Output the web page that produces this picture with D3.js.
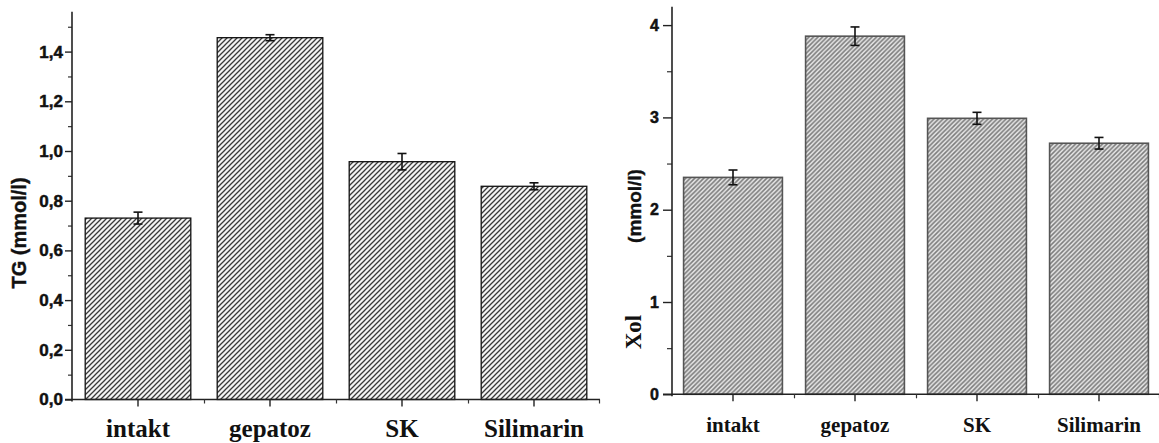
<!DOCTYPE html>
<html>
<head>
<meta charset="utf-8">
<script src="https://cdn.jsdelivr.net/npm/d3@7"></script>
<style>
  html, body { margin: 0; padding: 0; background: #fff; }
  svg { display: block; }
</style>
</head>
<body>
<svg id="chart" width="1159" height="443"></svg>
<script>
// ---- data ----
const categories = ["intakt", "gepatoz", "SK", "Silimarin"];
const tgValues = [0.73, 1.456, 0.957, 0.858];
const tgErrors = [0.024, 0.012, 0.033, 0.014];
const tgTicks = [0, 0.2, 0.4, 0.6, 0.8, 1.0, 1.2, 1.4];
const tgMinorTicks = [0.1, 0.3, 0.5, 0.7, 0.9, 1.1, 1.3, 1.5];
const xolValues = [2.35, 3.88, 2.99, 2.72];
const xolErrors = [0.08, 0.1, 0.065, 0.063];
const xolTicks = [0, 1, 2, 3, 4];
const xolMinorTicks = [0.5, 1.5, 2.5, 3.5];

const svg = d3.select("#chart");
const defs = svg.append("defs");

function hatch(id, bg, fg, size, sw) {
  const p = defs.append("pattern").attr("id", id)
    .attr("patternUnits", "userSpaceOnUse")
    .attr("width", size).attr("height", size);
  p.append("rect").attr("width", size).attr("height", size).attr("fill", bg);
  p.append("path")
    .attr("d", `M${-size/2},${size/2} L${size/2},${-size/2} M0,${size} L${size},0 M${size/2},${size*1.5} L${size*1.5},${size/2}`)
    .attr("stroke", fg).attr("stroke-width", sw);
}
hatch("hatchL", "#f4f4f4", "#3a3a3a", 5, 1.3);
hatch("hatchR", "#e8e8e8", "#7c7c7c", 4.5, 1.6);

function panel(opt) {
  const g = svg.append("g");
  const x = d3.scaleBand().domain(categories).range([opt.x0, opt.x1]).paddingInner(opt.pad).paddingOuter(opt.pad / 2);
  const y = d3.scaleLinear().domain([0, opt.yMax]).range([opt.yBase, opt.yTop]);

  // bars
  g.selectAll("rect.bar").data(categories).join("rect")
    .attr("class", "bar")
    .attr("x", d => x(d))
    .attr("width", x.bandwidth())
    .attr("y", (d, i) => y(opt.values[i]))
    .attr("height", (d, i) => y(0) - y(opt.values[i]))
    .attr("fill", `url(#${opt.pattern})`)
    .attr("stroke", opt.barStroke)
    .attr("stroke-width", opt.barStrokeW);

  // error bars
  const eb = g.selectAll("g.err").data(categories).join("g").attr("class", "err")
    .attr("stroke", "#111").attr("stroke-width", 1.6);
  eb.append("line")
    .attr("x1", d => x(d) + x.bandwidth() / 2).attr("x2", d => x(d) + x.bandwidth() / 2)
    .attr("y1", (d, i) => y(opt.values[i] + opt.errors[i]))
    .attr("y2", (d, i) => y(opt.values[i] - opt.errors[i]));
  [1, -1].forEach(s => {
    eb.append("line")
      .attr("x1", d => x(d) + x.bandwidth() / 2 - 4.5).attr("x2", d => x(d) + x.bandwidth() / 2 + 4.5)
      .attr("y1", (d, i) => y(opt.values[i] + s * opt.errors[i]))
      .attr("y2", (d, i) => y(opt.values[i] + s * opt.errors[i]));
  });

  // y axis: minor ticks
  g.append("g").attr("transform", `translate(${opt.x0},0)`)
    .call(d3.axisLeft(y).tickValues(opt.minor).tickSize(opt.minorLen).tickFormat(""))
    .call(a => a.select(".domain").remove())
    .call(a => a.selectAll("line").attr("stroke", "#333").attr("stroke-width", 1.2));
  // y axis: major ticks
  const ya = g.append("g").attr("transform", `translate(${opt.x0},0)`)
    .call(d3.axisLeft(y).tickValues(opt.ticks).tickSize(opt.majorLen).tickSizeOuter(0).tickPadding(opt.tickPad).tickFormat(opt.fmt));
  ya.select(".domain").attr("stroke", "#222").attr("stroke-width", 1.6)
    .attr("d", `M0,${y(0) + 2}V${y(opt.yMax)}`);
  ya.selectAll("line").attr("stroke", "#222").attr("stroke-width", 1.4);
  ya.attr("font-size", opt.tickSize);
  ya.selectAll("text").attr("font-family", "Liberation Sans, Arial, sans-serif")
    .attr("font-weight", "bold").attr("font-size", opt.tickSize).attr("fill", "#111")
    .attr("stroke", "#111").attr("stroke-width", 0.5);

  // x axis: boundary ticks
  const bounds = categories.slice(1).map(c => x(c) - x.step() * x.paddingInner() / 2);
  const xb = d3.scaleLinear().domain([opt.x0, opt.x1]).range([opt.x0, opt.x1]);
  g.append("g").attr("transform", `translate(0,${opt.yBase})`)
    .call(d3.axisBottom(xb).tickValues(bounds.concat([opt.x1 - 1])).tickSize(4).tickFormat(""))
    .call(a => a.select(".domain").attr("stroke", "#222").attr("stroke-width", 1.6)
      .attr("d", `M${opt.x0 - opt.majorLen},0H${opt.x1}`))
    .call(a => a.selectAll("line").attr("stroke", "#333").attr("stroke-width", 1.2));
  // x axis: category ticks and labels
  const xa = g.append("g").attr("transform", `translate(0,${opt.yBase})`)
    .call(d3.axisBottom(x).tickSize(7).tickPadding(opt.labelPad));
  xa.select(".domain").remove();
  xa.selectAll("line").attr("stroke", "#222").attr("stroke-width", 1.4);
  xa.selectAll("text").attr("font-family", "Liberation Serif, Times New Roman, serif")
    .attr("font-weight", "bold").attr("font-size", opt.labelSize).attr("fill", "#111");
  return {g, x, y};
}

const fmtComma = d => d3.format(".1f")(d).replace(".", ",");

const left = panel({
  x0: 72, x1: 600, pad: 0.2, yBase: 399.5, yTop: 399.5 - 1.56 * 248.5, yMax: 1.56,
  values: tgValues, errors: tgErrors, ticks: tgTicks, minor: tgMinorTicks,
  majorLen: 7, minorLen: 4, tickPad: 2, fmt: fmtComma, tickSize: 17,
  pattern: "hatchL", barStroke: "#111", barStrokeW: 1.3,
  labelSize: 25, labelPad: 13
});
left.g.append("text")
  .attr("transform", "translate(26,233) rotate(-90)")
  .attr("text-anchor", "middle")
  .attr("font-family", "Liberation Sans, Arial, sans-serif")
  .attr("font-weight", "bold").attr("font-size", 20).attr("fill", "#111")
  .attr("stroke", "#111").attr("stroke-width", 0.4)
  .text("TG (mmol/l)");

const right = panel({
  x0: 672, x1: 1160, pad: 0.19, yBase: 394.3, yTop: 394.3 - 4.2 * 92.3, yMax: 4.2,
  values: xolValues, errors: xolErrors, ticks: xolTicks, minor: xolMinorTicks,
  majorLen: 9, minorLen: 5, tickPad: 4, fmt: d3.format("d"), tickSize: 16,
  pattern: "hatchR", barStroke: "#555", barStrokeW: 1.6,
  labelSize: 21, labelPad: 16
});
right.g.append("text")
  .attr("transform", "translate(641,206) rotate(-90)")
  .attr("text-anchor", "middle")
  .attr("font-family", "Liberation Sans, Arial, sans-serif")
  .attr("font-weight", "bold").attr("font-size", 19).attr("fill", "#111")
  .attr("stroke", "#111").attr("stroke-width", 0.4)
  .text("(mmol/l)");
right.g.append("text")
  .attr("transform", "translate(641,332) rotate(-90)")
  .attr("text-anchor", "middle")
  .attr("font-family", "Liberation Serif, Times New Roman, serif")
  .attr("font-weight", "bold").attr("font-size", 23).attr("fill", "#111")
  .text("Xol");
</script>
</body>
</html>
